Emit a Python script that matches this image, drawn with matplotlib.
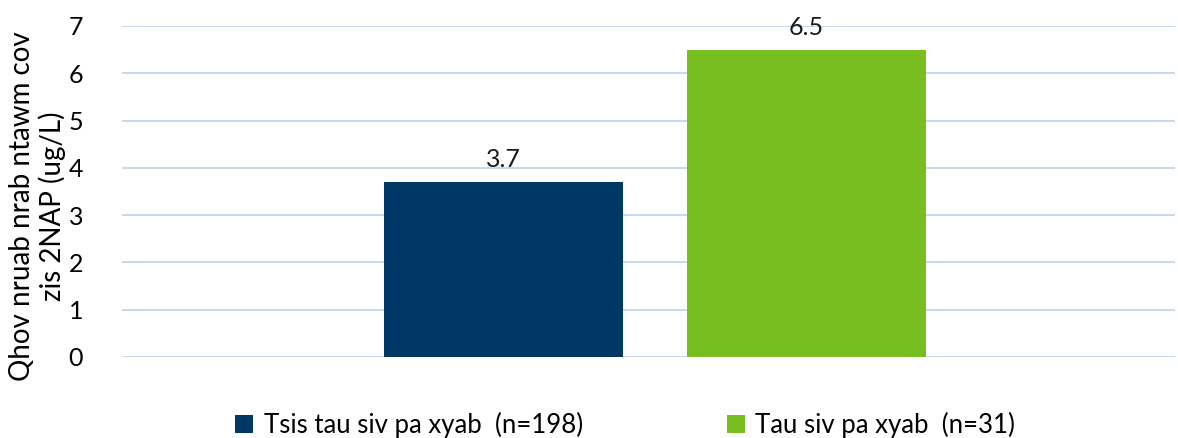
import matplotlib.pyplot as plt

series = ["Tsis tau siv pa xyab  (n=198)", "Tau siv pa xyab  (n=31)"]
values = [3.7, 6.5]
labels = ["3.7", "6.5"]
colors = ["#003865", "#78BE20"]
yticks = [0, 1, 2, 3, 4, 5, 6, 7]

plt.rcParams["font.family"] = ["Lato", "DejaVu Sans"]

fig = plt.figure(figsize=(11.78, 4.38), dpi=100)
ax = fig.add_axes([0.1036, 0.185, 0.894, 0.7557])

width = 0.227
offsets = [-0.138, 0.150]
for i in range(len(series)):
    ax.bar(offsets[i], values[i], width=width, color=colors[i], label=series[i], zorder=3)
    ax.annotate(labels[i], (offsets[i], values[i]), xytext=(0, 8), textcoords="offset points",
                ha="center", va="bottom", fontsize=18, color="#1a1a1a")

ax.set_xlim(-0.5, 0.5)
ax.set_ylim(0, 7)
ax.set_yticks(yticks)
ax.set_yticklabels([str(t) for t in yticks], fontsize=18)
ax.set_xticks([])
ax.grid(axis="y", color="#BDD7EE", linewidth=1.3, zorder=0)
for s in ax.spines.values():
    s.set_visible(False)
ax.tick_params(axis="y", length=0, pad=28)

ax.set_ylabel("Qhov nruab nrab ntawm cov\nzis 2NAP (ug/L)", fontsize=20, linespacing=1.15)
ax.yaxis.set_label_coords(-0.053, 0.455)

fig.legend(loc="center", bbox_to_anchor=(0.5306, 0.03), ncol=2, frameon=False, fontsize=18.5,
           handlelength=0.7, handleheight=0.7, handletextpad=0.4, columnspacing=5.6)

plt.savefig("out.png", dpi=100)
